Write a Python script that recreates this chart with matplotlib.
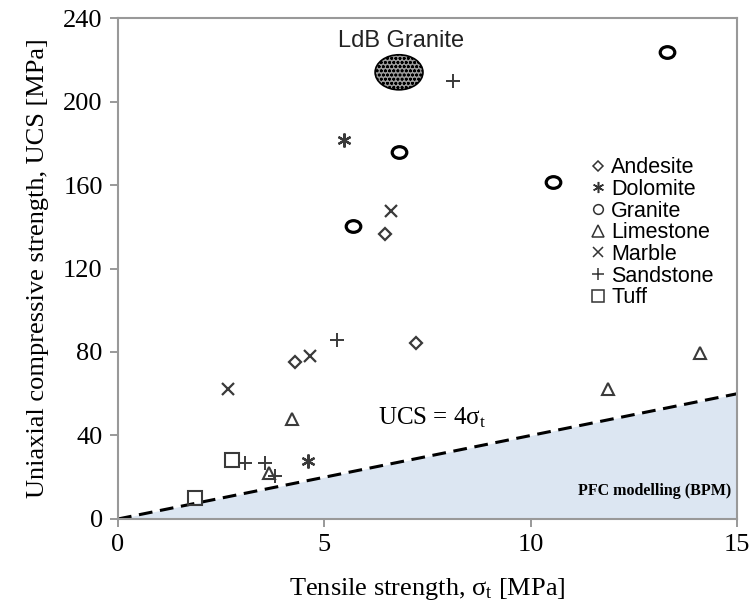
import matplotlib
matplotlib.use("Agg")
import matplotlib.pyplot as plt
from matplotlib.patches import Ellipse
from matplotlib.path import Path
from matplotlib.transforms import Affine2D
from matplotlib.lines import Line2D
import numpy as np

plt.rcParams["font.family"] = ["Liberation Serif", "DejaVu Serif"]
plt.rcParams["mathtext.fontset"] = "custom"
plt.rcParams["mathtext.rm"] = "Liberation Serif"
plt.rcParams["mathtext.it"] = "Liberation Serif:italic"
plt.rcParams["hatch.linewidth"] = 0.8

# Tensile strength (MPa) and UCS (MPa) per rock type
andesite_t = [4.29, 6.47, 7.22]
andesite_ucs = [75.2, 136.5, 84.3]
dolomite_t = [5.48, 4.60]
dolomite_ucs = [181.6, 27.8]
granite_t = [5.69, 6.81, 10.54, 13.30]
granite_ucs = [140.4, 175.8, 161.4, 223.7]
limestone_t = [4.22, 3.66, 11.88, 14.10]
limestone_ucs = [47.9, 22.0, 62.3, 79.5]
marble_t = [2.67, 4.65, 6.61]
marble_ucs = [62.3, 78.1, 147.5]
sandstone_t = [3.08, 3.56, 3.80, 5.30, 8.12]
sandstone_ucs = [26.8, 26.8, 20.6, 85.7, 210.0]
tuff_t = [1.87, 2.76]
tuff_ucs = [10.0, 28.3]

rock_names = ["Andesite", "Dolomite", "Granite", "Limestone", "Marble", "Sandstone", "Tuff"]

# LdB granite range (centre and extent)
ldb_t, ldb_ucs = 6.81, 214.0
ldb_w, ldb_h = 1.16, 16.8

# UCS = 4 sigma_t bound
ratio = 4.0
x_ticks = [0, 5, 10, 15]
y_ticks = [0, 40, 80, 120, 160, 200, 240]

fig = plt.figure(figsize=(7.51, 6.11), dpi=100)
ax = fig.add_axes([0.1571, 0.1506, 0.8243, 0.8199])

sans = "Liberation Sans"

xs = np.array([0.0, 15.0])
ax.fill_between(xs, 0, ratio * xs, color="#dce6f2", zorder=0, linewidth=0)
ax.plot(xs, ratio * xs, color="black", linestyle=(0, (4.5, 2.5)), linewidth=2.2, zorder=2)

# slightly flattened ring for granite
flat_ring = Path.unit_circle().transformed(Affine2D().scale(1.0, 0.8))

gray = "#3a3a3a"
kw = dict(linestyle="none", markerfacecolor="none", zorder=3)
ax.plot(andesite_t, andesite_ucs, marker="D", markersize=6, markeredgecolor=gray, markeredgewidth=1.6, **kw)
ax.plot(dolomite_t, dolomite_ucs, marker=(6, 2, 0), markersize=10, markeredgecolor=gray, markeredgewidth=1.6, **kw)
ax.plot(granite_t, granite_ucs, marker=flat_ring, markersize=10.5, markeredgecolor="black", markeredgewidth=2.3, **kw)
ax.plot(limestone_t, limestone_ucs, marker="^", markersize=9, markeredgecolor=gray, markeredgewidth=1.5, **kw)
ax.plot(marble_t, marble_ucs, marker="x", markersize=9, markeredgecolor=gray, markeredgewidth=1.6, **kw)
ax.plot(sandstone_t, sandstone_ucs, marker="+", markersize=10, markeredgecolor=gray, markeredgewidth=1.4, **kw)
ax.plot(tuff_t, tuff_ucs, marker="s", markersize=10, markeredgecolor=gray, markeredgewidth=1.5, **kw)

ell = Ellipse((ldb_t, ldb_ucs), ldb_w, ldb_h, facecolor="#9a9a9a", edgecolor="black",
              hatch="oooo", linewidth=1.2, zorder=3)
ax.add_patch(ell)
ax.text(ldb_t + 0.05, 229, "LdB Granite", family=sans, fontsize=17, ha="center", va="center", color="#222222")

ax.text(6.3, 48.5, "UCS = 4σ$_\\mathrm{t}$", fontsize=18, ha="left", va="center")
ax.text(14.85, 13.5, "PFC modelling (BPM)", fontsize=11.5, fontweight="bold",
        ha="right", va="center")

ax.set_xlim(0, 15)
ax.set_ylim(0, 240)
ax.set_xticks(x_ticks)
ax.set_yticks(y_ticks)
ax.tick_params(direction="out", length=6, width=1.2, color="#888888", labelsize=19, pad=5)
for sp in ax.spines.values():
    sp.set_color("#999999")
    sp.set_linewidth(1.5)

ax.set_xlabel("Tensile strength, σ$_\\mathrm{t}$ [MPa]", fontsize=19, labelpad=14)
ax.set_ylabel("Uniaxial compressive strength, UCS [MPa]", fontsize=19, labelpad=10)

# legend keys are drawn small and thin
leg_markers = ["D", (6, 2, 0), "o", "^", "x", "+", "s"]
leg_sizes = [5.5, 8, 7, 8, 7.5, 9, 8]
handles = [Line2D([], [], linestyle="none", marker=m, markersize=s, markerfacecolor="none",
                  markeredgecolor="#333333", markeredgewidth=1.1)
           for m, s in zip(leg_markers, leg_sizes)]
leg = ax.legend(handles, rock_names, loc="upper left", bbox_to_anchor=(0.762, 0.722), frameon=False,
                prop={"family": sans, "size": 15.5}, handlelength=0.8, handletextpad=0.2,
                labelspacing=0.03, borderpad=0, borderaxespad=0)

fig.savefig("out.png", dpi=100)
